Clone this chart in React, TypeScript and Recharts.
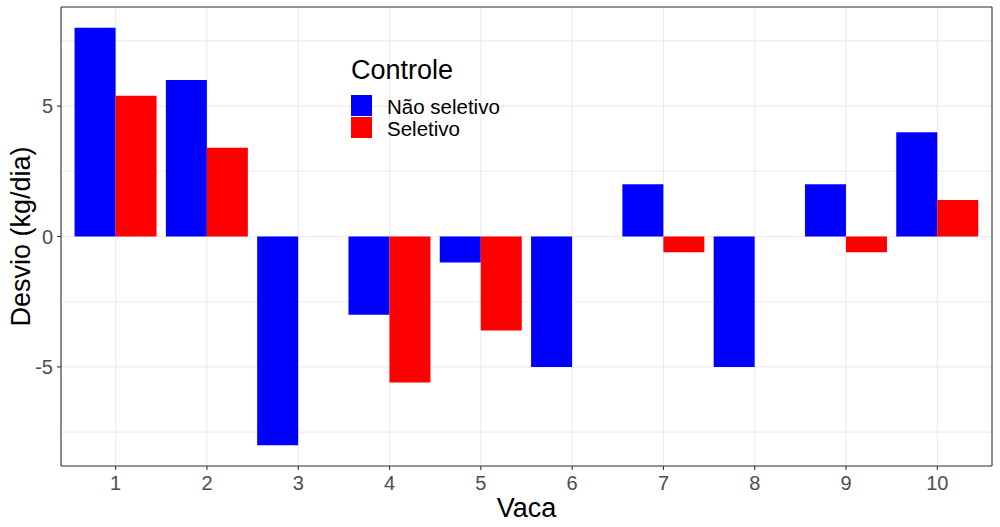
import { BarChart, Bar, XAxis, YAxis, CartesianGrid, Legend, Label } from 'recharts';

const vacas = ['1', '2', '3', '4', '5', '6', '7', '8', '9', '10'];
const naoSeletivo = [8, 6, -8, -3, -1, -5, 2, -5, 2, 4];
const seletivo = [5.4, 3.4, 0, -5.6, -3.6, 0, -0.6, 0, -0.6, 1.4];
const gridTicks = [-7.5, -5, -2.5, 0, 2.5, 5, 7.5];
const labelTicks = [-5, 0, 5];

const series = [
  { key: 'naoSeletivo', name: 'Não seletivo', color: '#0000FF' },
  { key: 'seletivo', name: 'Seletivo', color: '#FF0000' },
];

const rows = vacas.map((vaca, i) => ({
  vaca,
  naoSeletivo: naoSeletivo[i],
  seletivo: seletivo[i],
}));

const font = '"Liberation Sans", Arial, sans-serif';
const dark = '#333333';
const tickText = '#4d4d4d';

function YTick(props: any) {
  const { x, y, payload } = props;
  if (!labelTicks.includes(payload.value)) return <g />;
  return (
    <g>
      <line x1={x + 4} x2={x + 8} y1={y} y2={y} stroke={dark} strokeWidth={1.1} />
      <text x={x} y={y} dy="0.36em" textAnchor="end" fill={tickText} fontSize={20} fontFamily={font}>
        {payload.value}
      </text>
    </g>
  );
}

function LegendBox() {
  return (
    <div style={{ fontFamily: font, color: '#000' }}>
      <div style={{ fontSize: 27, lineHeight: '30px', height: 30, marginBottom: 10 }}>Controle</div>
      {series.map((s) => (
        <div key={s.key} style={{ display: 'flex', alignItems: 'flex-start', height: 22 }}>
          <div style={{ width: 21, height: 21, background: s.color }} />
          <div style={{ fontSize: 20.5, lineHeight: '22px', marginLeft: 15, position: 'relative', top: 1, whiteSpace: 'nowrap' }}>
            {s.name}
          </div>
        </div>
      ))}
    </div>
  );
}

export default function App() {
  return (
    <div style={{ position: 'absolute', left: 0, top: 0, width: 1000, height: 527, background: '#fff', fontFamily: font }}>
      <BarChart
        width={1000}
        height={527}
        data={rows}
        margin={{ top: 6, right: 7, bottom: 0, left: 0 }}
        barCategoryGap="5%"
        barGap={0}
      >
        <CartesianGrid stroke="#ebebeb" strokeWidth={1.1} />
        <XAxis
          dataKey="vaca"
          height={61}
          padding={{ left: 9, right: 9 }}
          tickSize={4}
          tickMargin={5.3}
          tickLine={{ stroke: dark, strokeWidth: 1.1 }}
          axisLine={{ stroke: dark, strokeWidth: 1.1 }}
          tick={{ fill: tickText, fontSize: 20, fontFamily: font }}
          interval={0}
        >
          <Label
            content={(p: any) => {
              const vb = p.viewBox;
              return (
                <text x={vb.x + vb.width / 2} y={vb.y + 50.7} textAnchor="middle" fontSize={27} fontFamily={font} fill="#000">
                  Vaca
                </text>
              );
            }}
          />
        </XAxis>
        <XAxis
          xAxisId="top"
          orientation="top"
          dataKey="vaca"
          height={1}
          tick={false}
          tickLine={false}
          axisLine={{ stroke: dark, strokeWidth: 1.1 }}
        />
        <YAxis
          width={61}
          domain={[-8.8, 8.8]}
          ticks={gridTicks}
          allowDataOverflow
          tickSize={4}
          tickMargin={4}
          tickLine={false}
          axisLine={{ stroke: dark, strokeWidth: 1.1 }}
          tick={<YTick />}
          interval={0}
        >
          <Label
            content={(p: any) => {
              const vb = p.viewBox;
              const cx = 29.5;
              const cy = vb.y + vb.height / 2;
              return (
                <text
                  x={cx}
                  y={cy}
                  textAnchor="middle"
                  fontSize={27}
                  fontFamily={font}
                  fill="#000"
                  transform={`rotate(-90, ${cx}, ${cy})`}
                >
                  Desvio (kg/dia)
                </text>
              );
            }}
          />
        </YAxis>
        <YAxis
          yAxisId="right"
          orientation="right"
          width={1}
          domain={[-8.8, 8.8]}
          tick={false}
          tickLine={false}
          axisLine={{ stroke: dark, strokeWidth: 1.1 }}
        />
        <Legend
          layout="horizontal"
          verticalAlign="middle"
          align="center"
          wrapperStyle={{ position: 'absolute', left: 351, top: 55, width: 'auto', height: 'auto' }}
          content={() => <LegendBox />}
        />
        {series.map((s) => (
          <Bar key={s.key} dataKey={s.key} name={s.name} fill={s.color} isAnimationActive={false} />
        ))}
      </BarChart>
    </div>
  );
}
